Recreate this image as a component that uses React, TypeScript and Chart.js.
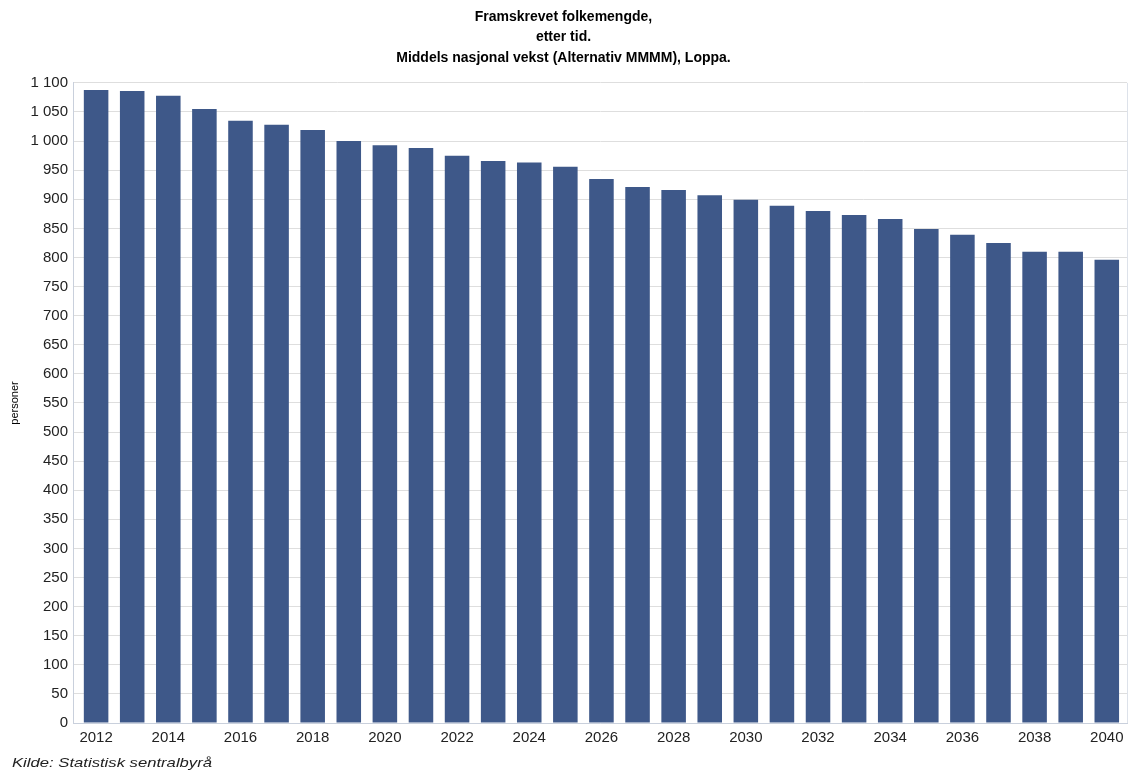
import React, { useEffect, useRef } from "react";
import { Chart, registerables } from "chart.js";

Chart.register(...registerables);

const years: number[] = [
  2012, 2013, 2014, 2015, 2016, 2017, 2018, 2019, 2020, 2021, 2022, 2023, 2024, 2025,
  2026, 2027, 2028, 2029, 2030, 2031, 2032, 2033, 2034, 2035, 2036, 2037, 2038, 2039, 2040,
];
const population: number[] = [
  1088, 1086, 1078, 1055, 1035, 1028, 1019, 1000, 993, 988, 975, 966, 963, 956,
  935, 921, 916, 907, 899, 889, 880, 873, 866, 849, 839, 825, 810, 810, 796,
];
const xTickYears: number[] = [2012, 2014, 2016, 2018, 2020, 2022, 2024, 2026, 2028, 2030, 2032, 2034, 2036, 2038, 2040];
const titleLines: string[] = [
  "Framskrevet folkemengde,",
  "etter tid.",
  "Middels nasjonal vekst (Alternativ MMMM), Loppa.",
];
const yAxisTitle = "personer";
const sourceText = "Kilde: Statistisk sentralbyrå";

const FONT = "'Liberation Sans', Arial, sans-serif";

function fmt(v: number): string {
  return String(v).replace(/\B(?=(\d{3})+(?!\d))/g, " ");
}

const extrasPlugin = {
  id: "extras",
  afterDraw(chart: any) {
    const { ctx, chartArea } = chart;
    ctx.save();
    ctx.strokeStyle = "#dde2ea";
    ctx.lineWidth = 1;
    ctx.beginPath();
    ctx.moveTo(Math.round(chartArea.right) + 0.5, chartArea.top);
    ctx.lineTo(Math.round(chartArea.right) + 0.5, chartArea.bottom);
    ctx.stroke();
    ctx.fillStyle = "#222";
    ctx.font = `italic 13px ${FONT}`;
    ctx.textAlign = "left";
    ctx.textBaseline = "alphabetic";
    const w = ctx.measureText(sourceText).width;
    const sx = 200 / w;
    ctx.translate(12, 767);
    ctx.scale(sx, 1);
    ctx.fillText(sourceText, 0, 0);
    ctx.restore();
  },
};

export default function App() {
  const ref = useRef<HTMLCanvasElement | null>(null);

  useEffect(() => {
    if (!ref.current) return;
    const chart = new Chart(ref.current, {
      type: "bar",
      data: {
        datasets: [
          {
            label: "personer",
            data: years.map((y, i) => ({ x: y, y: population[i] })),
            backgroundColor: "#3e5889",
            borderWidth: 0,
            barPercentage: 0.68,
            categoryPercentage: 1,
          },
        ],
      },
      options: {
        animation: false,
        responsive: true,
        maintainAspectRatio: false,
        layout: { padding: { left: 0, right: 7, top: 0, bottom: 0 } },
        plugins: {
          legend: { display: false },
          tooltip: { enabled: false },
          title: {
            display: true,
            text: titleLines,
            color: "#000",
            font: { family: FONT, size: 14, weight: "bold", lineHeight: 1.45 },
            padding: { top: 7, bottom: 15 },
          },
        },
        scales: {
          x: {
            type: "linear",
            min: 2011.36,
            max: 2040.56,
            offset: false,
            grid: { display: false, drawTicks: false },
            border: { display: true, color: "#c9d0dc" },
            afterBuildTicks: (scale: any) => {
              scale.ticks = xTickYears.map((v) => ({ value: v }));
            },
            afterFit: (scale: any) => {
              scale.height = 48;
            },
            ticks: {
              autoSkip: false,
              maxRotation: 0,
              padding: 6,
              color: "#222",
              font: { family: FONT, size: 15 },
              callback: (v: any) => String(v),
            },
          },
          y: {
            min: 0,
            max: 1100,
            grid: { color: "#dedede", drawTicks: false },
            border: { display: true, color: "#c9d0dc" },
            afterFit: (scale: any) => {
              scale.width = 73;
            },
            title: {
              display: true,
              text: yAxisTitle,
              color: "#000",
              font: { family: FONT, size: 11 },
              padding: { top: 8, bottom: 0 },
            },
            ticks: {
              stepSize: 50,
              padding: 5,
              color: "#222",
              font: { family: FONT, size: 15 },
              callback: (v: any) => fmt(Number(v)),
            },
          },
        },
      },
      plugins: [extrasPlugin],
    });
    return () => chart.destroy();
  }, []);

  return (
    <div style={{ position: "fixed", left: 0, top: 0, width: 1134, height: 771, background: "#fff" }}>
      <canvas ref={ref} />
    </div>
  );
}
